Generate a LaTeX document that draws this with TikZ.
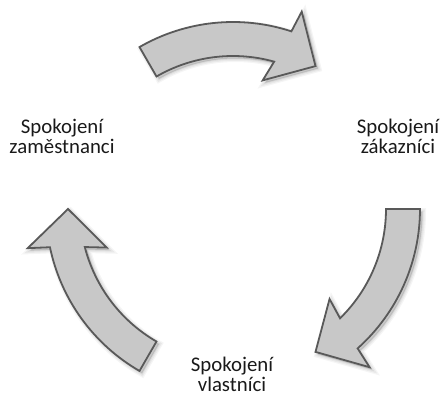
\documentclass[tikz,border=0pt]{standalone}
\usepackage{fontspec}
\setmainfont{Carlito}
\definecolor{arrowfill}{HTML}{C8C8C8}
\definecolor{arrowline}{HTML}{595959}
\tikzset{
  cyclearrow/.style={fill=arrowfill, draw=arrowline, line width=1.8pt, line join=miter},
  lbl/.style={align=center, font=\fontsize{20.8}{20}\selectfont, inner sep=0pt, text=black!90},
  pics/cycarrow/.style={code={
    \path[#1] (120:187) arc[start angle=120, end angle=71.8, radius=187]
      -- (70.8:209) -- (60:165) -- (77:132) -- (74.4:153)
      arc[start angle=74.4, end angle=120, radius=153] -- cycle;
  }}
}
\begin{document}
\begin{tikzpicture}[x=1pt,y=1pt]
  \useasboundingbox (0,0) rectangle (442,397);
  \coordinate (C) at (233,188);
  \coordinate (Cs) at (235.5,185.5);
  \foreach \r in {0,-120,120} {
    \foreach \w/\o in {7/0.04,4.5/0.05,2/0.06}
      \pic[rotate=\r] at (Cs) {cycarrow={fill=black, draw=black, line width=\w pt, opacity=\o}};
    \pic[rotate=\r] at (C) {cycarrow=cyclearrow};
  }
  \node[lbl] (zam) at (62,261) {Spokojení\\zaměstnanci};
  \node[lbl] (zak) at (398,261) {Spokojení\\zákazníci};
  \node[lbl] (vla) at (232,23) {Spokojení\\vlastníci};
\end{tikzpicture}
\end{document}
